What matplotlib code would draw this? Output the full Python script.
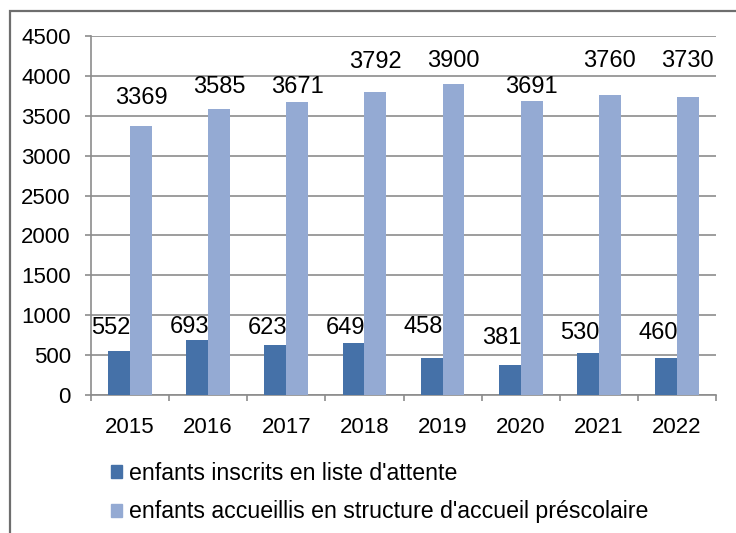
import matplotlib
matplotlib.use('Agg')
import matplotlib.pyplot as plt
import numpy as np
from matplotlib.patches import Rectangle, Patch

years = ['2015', '2016', '2017', '2018', '2019', '2020', '2021', '2022']
waiting = [552, 693, 623, 649, 458, 381, 530, 460]
hosted = [3369, 3585, 3671, 3792, 3900, 3691, 3760, 3730]
lbl_waiting = "enfants inscrits en liste d'attente"
lbl_hosted = "enfants accueillis en structure d'accueil préscolaire"

# label offsets above bar tops (pixels), as placed in the original
off_waiting = [23, 13, 17, 15, 31, 27, 20, 25]
off_hosted = [28, 22, 15, 30, 23, 14, 34, 36]

c_dark = '#4571a8'
c_light = '#94aad3'
c_grid = '#8c8c8c'

plt.rcParams['font.family'] = ['Liberation Sans', 'DejaVu Sans']
plt.rcParams['font.size'] = 16

fig = plt.figure(figsize=(7.36, 5.33), dpi=100)
fig.patches.append(Rectangle((10 / 736, -0.1), 1.2, 1 - 11.5 / 533 + 0.1,
                             transform=fig.transFigure, fill=False,
                             edgecolor='#6e6e6e', linewidth=1.6))

ax = fig.add_axes([91 / 736, 1 - 395 / 533, 625 / 736, 359 / 533])
x = np.arange(len(years))
w = 0.28
ax.bar(x - w / 2, waiting, w, color=c_dark, zorder=3)
ax.bar(x + w / 2, hosted, w, color=c_light, zorder=3)

px = 72 / 100  # points per pixel
for i in range(len(years)):
    ax.annotate(str(waiting[i]), (x[i] - w / 2, waiting[i]),
                xytext=(-8 * px, off_waiting[i] * px), textcoords='offset points',
                ha='center', va='center', fontsize=17)
    ax.annotate(str(hosted[i]), (x[i] + w / 2, hosted[i]),
                xytext=(0, off_hosted[i] * px), textcoords='offset points',
                ha='center', va='center', fontsize=17)

ax.set_xlim(-0.5, len(years) - 0.5)
ax.set_ylim(0, 4500)
ax.set_yticks(np.arange(0, 4501, 500))
ax.set_xticks(x)
ax.set_xticklabels(years)
ax.set_xticks(np.arange(-0.5, len(years), 1), minor=True)
ax.tick_params(axis='x', which='major', length=0, pad=16)
ax.tick_params(axis='x', which='minor', length=4.5, width=1.2, color=c_grid, direction='out')
ax.tick_params(axis='y', length=4.5, width=1.2, color=c_grid, pad=10)
ax.grid(axis='y', color=c_grid, linewidth=1.2, zorder=0)
ax.set_axisbelow(True)
for s in ['top', 'right']:
    ax.spines[s].set_visible(False)
for s in ['left', 'bottom']:
    ax.spines[s].set_color(c_grid)
    ax.spines[s].set_linewidth(1.2)

handles = [Patch(color=c_dark, label=lbl_waiting), Patch(color=c_light, label=lbl_hosted)]
fig.legend(handles=handles, loc='upper left', bbox_to_anchor=(90 / 736, 1 - 441 / 533),
           frameon=False, fontsize=16.7, handlelength=0.5, handleheight=0.5,
           handletextpad=0.3, labelspacing=0.67)

fig.savefig('out.png', dpi=100)
